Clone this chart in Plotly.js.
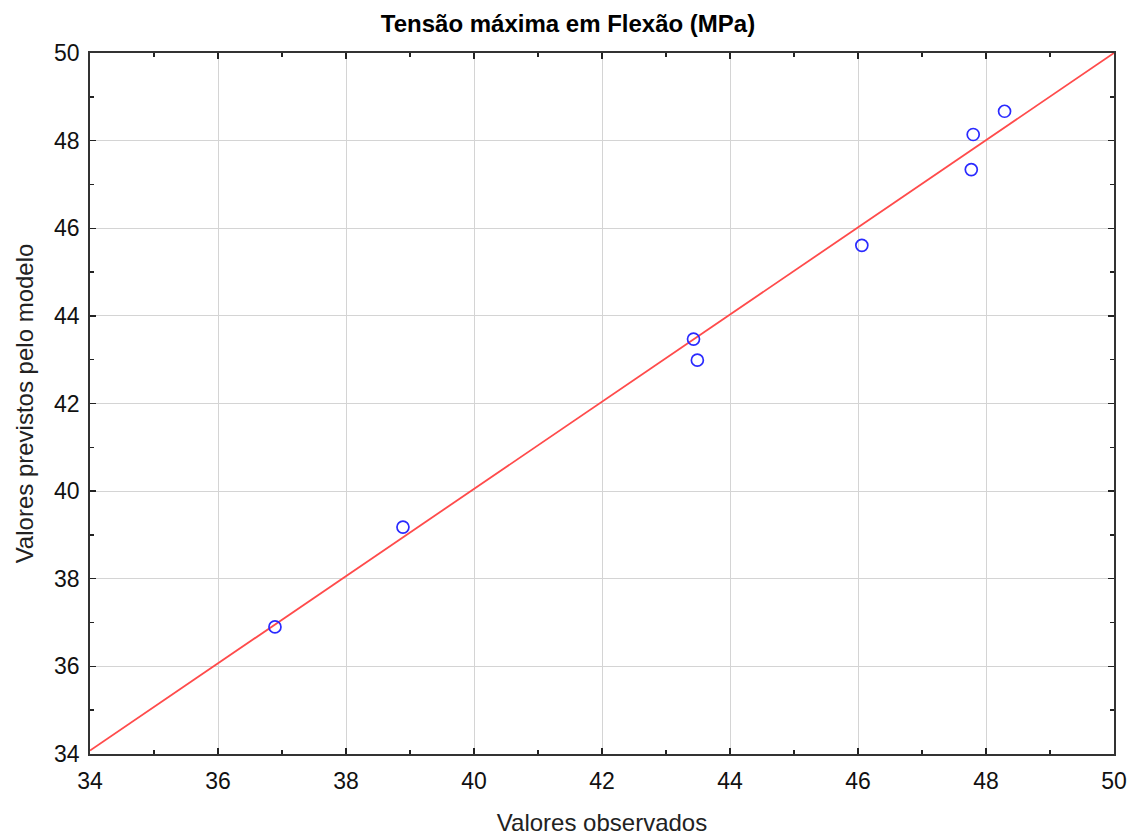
<!DOCTYPE html>
<html>
<head>
<meta charset="utf-8">
<script src="https://cdn.plot.ly/plotly-3.0.1.min.js"></script>
<style>
  html, body { margin: 0; padding: 0; background: #ffffff; }
  #chart { width: 1136px; height: 838px; }
</style>
</head>
<body>
<div id="chart"></div>
<script>
// Observed vs. predicted maximum flexural stress (MPa)
const observed  = [36.89, 38.89, 43.43, 43.49, 46.06, 47.77, 47.80, 48.29];
const predicted = [36.90, 39.18, 43.47, 42.99, 45.61, 47.34, 48.14, 48.67];

// Reference line (predicted = observed)
const refX = [34, 50];
const refY = [34.08, 50];

const tickVals = [34, 36, 38, 40, 42, 44, 46, 48, 50];

const FONT = '"Liberation Sans", Arial, sans-serif';

const axisCommon = {
  range: [34, 50],
  tickmode: 'array',
  tickvals: tickVals,
  ticktext: tickVals.map(String),
  ticks: 'inside',
  ticklen: 6,
  tickwidth: 1.4,
  tickcolor: '#222222',
  minor: { dtick: 1, ticks: 'inside', ticklen: 4, tickwidth: 1.4, tickcolor: '#222222', showgrid: false },
  showline: true,
  linecolor: '#333333',
  linewidth: 1.8,
  mirror: 'allticks',
  showgrid: true,
  gridcolor: '#d4d4d4',
  gridwidth: 1,
  zeroline: false,
  tickfont: { family: FONT, size: 23, color: '#111111' }
};

const traces = [
  {
    x: refX, y: refY,
    type: 'scatter', mode: 'lines',
    line: { color: '#ff4b4b', width: 1.8 },
    hoverinfo: 'skip', showlegend: false
  },
  {
    x: observed, y: predicted,
    type: 'scatter', mode: 'markers',
    marker: { symbol: 'circle-open', size: 12, color: '#2a2aff', line: { width: 1.7, color: '#2a2aff' } },
    showlegend: false
  }
];

const layout = {
  width: 1136, height: 838,
  paper_bgcolor: '#ffffff', plot_bgcolor: '#ffffff',
  margin: { l: 90, r: 22, t: 53, b: 84 },
  title: {
    text: '<b>Tensão máxima em Flexão (MPa)</b>',
    font: { family: FONT, size: 24, color: '#000000' },
    x: 0.5, xanchor: 'center', y: 0.972, yanchor: 'middle'
  },
  xaxis: Object.assign({}, axisCommon, {
    title: { text: 'Valores observados', font: { family: FONT, size: 24, color: '#222222' }, standoff: 21 },
    ticklabelstandoff: 6
  }),
  yaxis: Object.assign({}, axisCommon, {
    title: { text: 'Valores previstos pelo modelo', font: { family: FONT, size: 24, color: '#222222' }, standoff: 14 },
    ticklabelstandoff: 4
  })
};

Plotly.newPlot('chart', traces, layout, { displayModeBar: false, staticPlot: true });
</script>
</body>
</html>
